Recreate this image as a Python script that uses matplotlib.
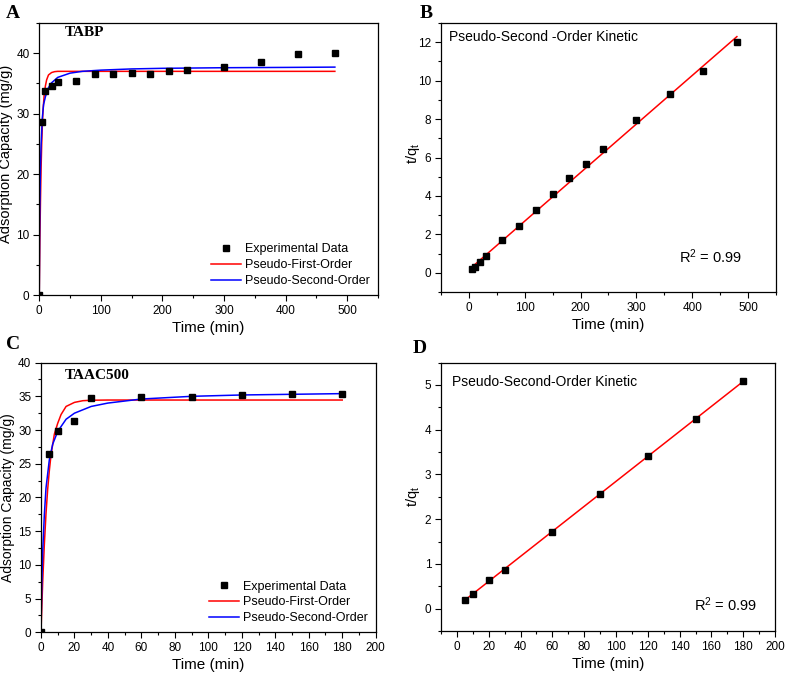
import numpy as np
import matplotlib.pyplot as plt
from matplotlib.ticker import MultipleLocator

plt.rcParams['font.family'] = ['Liberation Sans', 'DejaVu Sans']
plt.rcParams['mathtext.fontset'] = 'custom'
plt.rcParams['mathtext.rm'] = 'Liberation Sans'
plt.rcParams['mathtext.it'] = 'Liberation Sans'

# --- TABP (panel A / B) ---
tabp_t = [0, 5, 10, 20, 30, 60, 90, 120, 150, 180, 210, 240, 300, 360, 420, 480]
tabp_q = [0, 28.7, 33.7, 34.5, 35.2, 35.4, 36.6, 36.6, 36.7, 36.6, 37.0, 37.3, 37.8, 38.6, 39.9, 40.0]

# fitted curves
tabp_pfo_t = [0, 1, 2, 3, 4, 5, 6, 8, 10, 12, 15, 20, 25, 30, 50, 100, 480]
tabp_pfo_q = [0, 9.0, 15.6, 21.0, 25.0, 28.0, 30.3, 33.1, 34.6, 35.6, 36.4, 36.8, 36.95, 37.0, 37.0, 37.0, 37.0]
tabp_pso_t = [0, 0.5, 1, 2, 3, 5, 7, 10, 15, 20, 30, 50, 70, 100, 150, 200, 300, 400, 480]
tabp_pso_q = [0, 9.4, 15.0, 21.2, 24.8, 29.3, 31.5, 32.8, 34.3, 35.1, 36.0, 36.7, 37.0, 37.2, 37.4, 37.5, 37.6, 37.65, 37.7]

tabp_lin_t = [5, 10, 20, 30, 60, 90, 120, 150, 180, 210, 240, 300, 360, 420, 480]
tabp_lin_y = [0.18, 0.30, 0.58, 0.85, 1.70, 2.46, 3.28, 4.10, 4.92, 5.68, 6.44, 7.94, 9.32, 10.52, 12.0]
tabp_fit_t = [5, 480]
tabp_fit_y = [0.29, 12.29]

# --- TAAC500 (panel C / D) ---
taac_t = [0, 5, 10, 20, 30, 60, 90, 120, 150, 180]
taac_q = [0, 26.45, 29.9, 31.3, 34.76, 34.86, 34.96, 35.15, 35.3, 35.4]

taac_pfo_t = [0, 1, 2, 3, 4, 5, 6, 8, 10, 12, 15, 20, 25, 30, 40, 60, 180]
taac_pfo_q = [0, 7.3, 13.0, 17.6, 21.2, 24.0, 26.3, 29.4, 31.0, 32.3, 33.5, 34.1, 34.35, 34.42, 34.45, 34.45, 34.45]
taac_pso_t = [0, 0.5, 1, 2, 3, 5, 7, 10, 15, 20, 30, 40, 60, 90, 120, 150, 180]
taac_pso_q = [0, 7.2, 11.8, 17.4, 21.4, 25.6, 27.9, 29.8, 31.6, 32.5, 33.5, 34.0, 34.6, 35.0, 35.2, 35.3, 35.4]

taac_lin_t = [5, 10, 20, 30, 60, 90, 120, 150, 180]
taac_lin_y = [0.19, 0.33, 0.64, 0.86, 1.72, 2.57, 3.41, 4.25, 5.09]
taac_fit_t = [5, 180]
taac_fit_y = [0.19, 5.08]

fig = plt.figure(figsize=(7.85, 6.76), dpi=100)
axA = fig.add_axes([0.050, 0.5636, 0.4315, 0.4024])
axB = fig.add_axes([0.5618, 0.568, 0.4267, 0.398])
axC = fig.add_axes([0.0522, 0.0646, 0.4264, 0.399])
axD = fig.add_axes([0.5618, 0.0666, 0.4255, 0.397])


def style(ax, xmaj, xmin, ymaj, ymin):
    ax.xaxis.set_major_locator(MultipleLocator(xmaj))
    ax.xaxis.set_minor_locator(MultipleLocator(xmin))
    ax.yaxis.set_major_locator(MultipleLocator(ymaj))
    ax.yaxis.set_minor_locator(MultipleLocator(ymin))
    ax.tick_params(which='major', direction='out', length=4, width=0.8, labelsize=8.5,
                   top=False, right=False, pad=3)
    ax.tick_params(which='minor', direction='out', length=2.5, width=0.8, top=False, right=False)
    for s in ax.spines.values():
        s.set_linewidth(0.9)
    ax.set_xlabel('Time (min)', fontsize=11, labelpad=3)


leg_kw = dict(loc='lower right', frameon=False, fontsize=9, handlelength=2.4,
              handletextpad=0.3, labelspacing=0.3, borderaxespad=0.25)

# panel A
axA.plot(tabp_t, tabp_q, 's', color='black', ms=4.5, label='Experimental Data', zorder=3)
axA.plot(tabp_pfo_t, tabp_pfo_q, color='red', lw=1.1, label='Pseudo-First-Order')
axA.plot(tabp_pso_t, tabp_pso_q, color='blue', lw=1.1, label='Pseudo-Second-Order')
axA.set_xlim(0, 550)
axA.set_ylim(0, 45)
style(axA, 100, 50, 10, 5)
axA.set_ylabel('Adsorption Capacity (mg/g)', fontsize=10.5)
axA.yaxis.set_label_coords(-0.078, 0.52)
axA.legend(**leg_kw)
axA.text(0.076, 0.965, 'TABP', transform=axA.transAxes, fontsize=11, fontweight='bold',
         family='Liberation Serif', va='center')

# panel B
axB.plot(tabp_fit_t, tabp_fit_y, color='red', lw=1.1)
axB.plot(tabp_lin_t, tabp_lin_y, 's', color='black', ms=4.5, zorder=3)
axB.set_xlim(-50, 550)
axB.set_ylim(-1, 13)
style(axB, 100, 50, 2, 1)
axB.set_ylabel('t/q$_\\mathregular{t}$', fontsize=10.5)
axB.yaxis.set_label_coords(-0.057, 0.517)
axB.text(0.025, 0.948, 'Pseudo-Second -Order Kinetic', transform=axB.transAxes,
         fontsize=10, va='center')
axB.text(0.898, 0.13, 'R$^\\mathregular{2}$ = 0.99', transform=axB.transAxes,
         fontsize=10.5, va='center', ha='right')

# panel C
axC.plot(taac_t, taac_q, 's', color='black', ms=4.5, label='Experimental Data', zorder=3)
axC.plot(taac_pfo_t, taac_pfo_q, color='red', lw=1.1, label='Pseudo-First-Order')
axC.plot(taac_pso_t, taac_pso_q, color='blue', lw=1.1, label='Pseudo-Second-Order')
axC.set_xlim(0, 200)
axC.set_ylim(0, 40)
style(axC, 20, 10, 5, 2.5)
axC.set_ylabel('Adsorption Capacity (mg/g)', fontsize=10)
axC.yaxis.set_label_coords(-0.078, 0.5)
axC.legend(**leg_kw)
axC.text(0.072, 0.951, 'TAAC500', transform=axC.transAxes, fontsize=11, fontweight='bold',
         family='Liberation Serif', va='center')

# panel D
axD.plot(taac_fit_t, taac_fit_y, color='red', lw=1.1)
axD.plot(taac_lin_t, taac_lin_y, 's', color='black', ms=4.5, zorder=3)
axD.set_xlim(-10, 200)
axD.set_ylim(-0.5, 5.5)
style(axD, 20, 10, 1, 0.5)
axD.set_ylabel('t/q$_\\mathregular{t}$', fontsize=10.5)
axD.yaxis.set_label_coords(-0.057, 0.5)
axD.text(0.033, 0.929, 'Pseudo-Second-Order Kinetic', transform=axD.transAxes,
         fontsize=10, va='center')
axD.text(0.946, 0.097, 'R$^\\mathregular{2}$ = 0.99', transform=axD.transAxes,
         fontsize=10.5, va='center', ha='right')

# panel letters
for lbl, x, y in [('A', 0.008, 0.992), ('B', 0.535, 0.992), ('C', 0.008, 0.503), ('D', 0.526, 0.497)]:
    fig.text(x, y, lbl, fontsize=14, fontweight='bold', family='Liberation Serif', va='top')

fig.savefig('out.png', dpi=100)
